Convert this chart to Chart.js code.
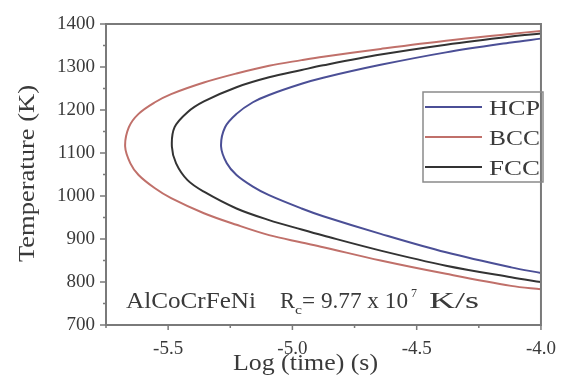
<!DOCTYPE html>
<html>
<head>
<meta charset="utf-8">
<script src="https://cdn.jsdelivr.net/npm/chart.js@4.4.0/dist/chart.umd.min.js"></script>
<style>
html,body{margin:0;padding:0;background:#fff;}
#wrap{width:569px;height:384px;position:relative;}
</style>
</head>
<body>
<div id="wrap"><canvas id="c" width="569" height="384"></canvas></div>
<script>
// ---- data ----
const seriesNames = ["HCP", "BCC", "FCC"];
const seriesColors = ["#4b4f96", "#c0706a", "#333333"];

// HCP: log(time) / temperature pairs, top branch -> nose -> bottom branch
const hcpTime = [-4.0, -4.12, -4.382, -4.645, -4.876, -4.963, -5.094, -5.159, -5.225, -5.271, -5.287, -5.264, -5.225, -5.159, -5.094, -4.963, -4.876, -4.645, -4.382, -4.12, -4.0];
const hcpTemp = [1366, 1357, 1334, 1305, 1275, 1261, 1235, 1218, 1191, 1160, 1115, 1076, 1049, 1022, 1002, 971, 953, 912, 869, 834, 821];

// BCC
const bccTime = [-4.0, -4.12, -4.382, -4.645, -4.876, -4.963, -5.094, -5.225, -5.356, -5.488, -5.553, -5.619, -5.658, -5.673, -5.652, -5.619, -5.553, -5.488, -5.356, -5.225, -5.094, -4.963, -4.876, -4.645, -4.382, -4.12, -4.0];
const bccTemp = [1384, 1377, 1361, 1342, 1324, 1316, 1303, 1285, 1264, 1237, 1218, 1191, 1160, 1115, 1076, 1049, 1018, 995, 960, 933, 909, 892, 881, 850, 819, 791, 783];

// FCC
const fccTime = [-4.0, -4.12, -4.382, -4.645, -4.876, -4.963, -5.094, -5.225, -5.356, -5.422, -5.474, -5.485, -5.468, -5.422, -5.356, -5.225, -5.094, -4.963, -4.876, -4.645, -4.382, -4.12, -4.0];
const fccTemp = [1378, 1371, 1352, 1329, 1304, 1293, 1276, 1253, 1220, 1195, 1160, 1115, 1076, 1037, 1010, 971, 944, 922, 908, 873, 838, 811, 800];

const xTicks = [-5.5, -5.0, -4.5, -4.0];
const xMinorTicks = [-5.75, -5.25, -4.75, -4.25];
const yTicks = [700, 800, 900, 1000, 1100, 1200, 1300, 1400];
const yMinorTicks = [750, 850, 950, 1050, 1150, 1250, 1350];

const xTitle = "Log (time) (s)";
const yTitle = "Temperature (K)";
const alloyLabel = "AlCoCrFeNi";

function pts(xs, ys){ return xs.map((x,i)=>({x:x, y:ys[i]})); }

const datasets = [
  {label: seriesNames[0], data: pts(hcpTime, hcpTemp), borderColor: seriesColors[0]},
  {label: seriesNames[1], data: pts(bccTime, bccTemp), borderColor: seriesColors[1]},
  {label: seriesNames[2], data: pts(fccTime, fccTemp), borderColor: seriesColors[2]}
].map(d => Object.assign(d, {showLine:true, pointRadius:0, borderWidth:2, tension:0.35, fill:false}));

const SERIF = "'Liberation Serif','Times New Roman',Times,serif";
const TXT = "#3a3a3a";
const AXC = "#7a7a7a";

function drawFit(ctx, text, x, y, width, font){
  ctx.save();
  ctx.font = font;
  const w = ctx.measureText(text).width;
  ctx.translate(x, y);
  ctx.scale(width / w, 1);
  ctx.fillText(text, 0, 0);
  ctx.restore();
}

const decor = {
  id: 'decor',
  afterDraw(chart){
    const ctx = chart.ctx;
    const a = chart.chartArea;
    const xs = chart.scales.x, ys = chart.scales.y;
    ctx.save();
    // frame
    ctx.strokeStyle = AXC;
    ctx.lineWidth = 2;
    ctx.strokeRect(a.left, a.top, a.right - a.left, a.bottom - a.top);
    // ticks
    ctx.lineWidth = 1.5;
    ctx.beginPath();
    yTicks.forEach(v => { const p = ys.getPixelForValue(v); ctx.moveTo(a.left - 6, p); ctx.lineTo(a.left, p); });
    yMinorTicks.forEach(v => { const p = ys.getPixelForValue(v); ctx.moveTo(a.left - 3, p); ctx.lineTo(a.left, p); });
    xTicks.forEach(v => { const p = xs.getPixelForValue(v); ctx.moveTo(p, a.bottom); ctx.lineTo(p, a.bottom + 5); });
    xMinorTicks.forEach(v => { const p = xs.getPixelForValue(v); ctx.moveTo(p, a.bottom); ctx.lineTo(p, a.bottom + 3); });
    ctx.stroke();

    ctx.fillStyle = TXT;
    ctx.textBaseline = 'alphabetic';
    ctx.textAlign = 'left';
    // x title
    drawFit(ctx, xTitle, 233, 370, 145, "24px " + SERIF);
    // y title
    ctx.save();
    ctx.translate(34, 262);
    ctx.rotate(-Math.PI/2);
    drawFit(ctx, yTitle, 0, 0, 177, "24px " + SERIF);
    ctx.restore();

    // legend
    ctx.strokeStyle = "#8a8a8a";
    ctx.lineWidth = 1.5;
    ctx.strokeRect(423, 92, 120, 90);
    const ly = [107, 137, 167];
    chart.data.datasets.forEach((d, i) => {
      ctx.strokeStyle = d.borderColor;
      ctx.lineWidth = 2;
      ctx.beginPath(); ctx.moveTo(425, ly[i]); ctx.lineTo(482, ly[i]); ctx.stroke();
      ctx.fillStyle = TXT;
      drawFit(ctx, d.label, 489, ly[i] + 8, 51, "22px " + SERIF);
    });

    // annotation
    ctx.fillStyle = TXT;
    drawFit(ctx, alloyLabel, 126, 308, 130, "23px " + SERIF);
    drawFit(ctx, "R", 280, 308, 15, "23px " + SERIF);
    drawFit(ctx, "c", 295, 314, 7, "13px " + SERIF);
    drawFit(ctx, "= 9.77 x 10", 302, 308, 106, "23px " + SERIF);
    drawFit(ctx, "7", 411, 297, 6, "12px " + SERIF);
    drawFit(ctx, "K/s", 429, 308, 50, "23px " + SERIF);
    ctx.restore();
  }
};

new Chart(document.getElementById('c'), {
  type: 'scatter',
  data: {datasets: datasets},
  options: {
    responsive: false,
    animation: false,
    layout: {padding: {left: 0, right: 19, top: 24, bottom: 0}},
    plugins: {legend: {display: false}, tooltip: {enabled: false}},
    scales: {
      x: {
        type: 'linear', min: -5.75, max: -4.0,
        grid: {display: false, drawTicks: false},
        border: {display: false},
        afterBuildTicks: s => { s.ticks = xTicks.map(v => ({value: v})); },
        afterFit: s => { s.height = 59; },
        ticks: {color: TXT, font: {family: SERIF, size: 19}, padding: 13, maxRotation: 0,
                callback: v => v.toFixed(1)}
      },
      y: {
        type: 'linear', min: 700, max: 1400,
        grid: {display: false, drawTicks: false},
        border: {display: false},
        afterBuildTicks: s => { s.ticks = yTicks.map(v => ({value: v})); },
        afterFit: s => { s.width = 106; },
        ticks: {color: TXT, font: {family: SERIF, size: 19}, padding: 11,
                callback: v => String(v)}
      }
    }
  },
  plugins: [decor]
});
</script>
</body>
</html>
